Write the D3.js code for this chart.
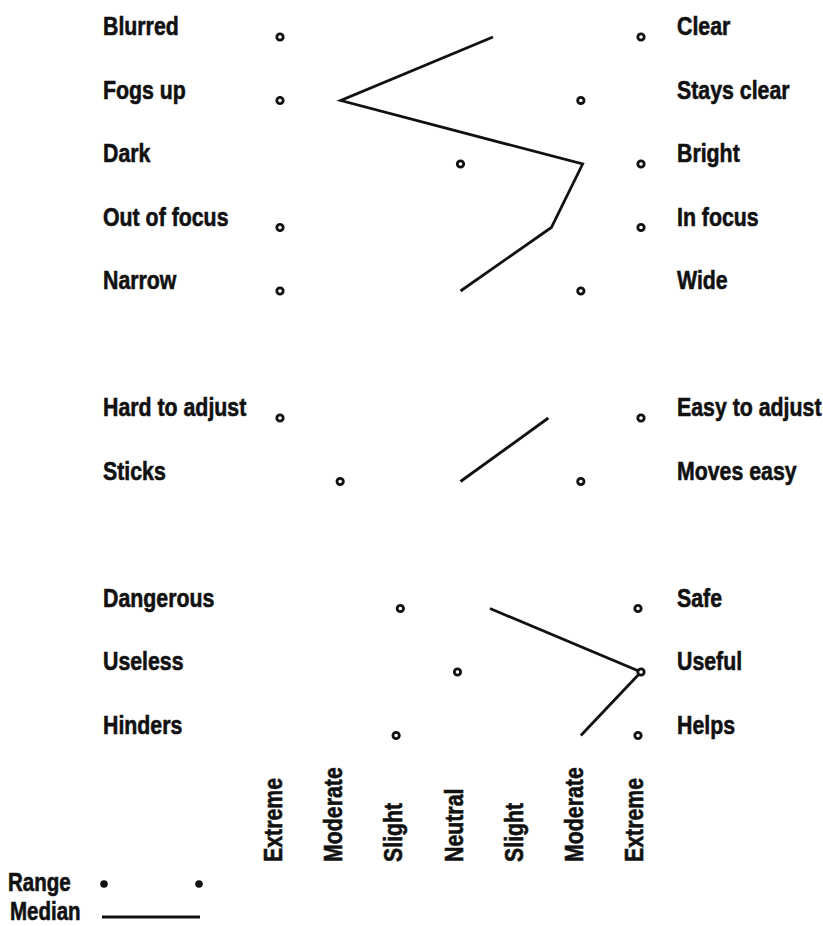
<!DOCTYPE html>
<html>
<head>
<meta charset="utf-8">
<script src="https://cdn.jsdelivr.net/npm/d3@7"></script>
<style>
  body { margin: 0; background: #fff; }
  svg text { font-family: "Liberation Sans", Arial, sans-serif; font-weight: bold; fill: #111; stroke: #111; stroke-width: 0.6; }
</style>
</head>
<body>
<svg id="chart" width="823" height="926"></svg>
<script>
// rating scales, left pole / right pole
var leftLabels = ["Blurred", "Fogs up", "Dark", "Out of focus", "Narrow",
  "Hard to adjust", "Sticks",
  "Dangerous", "Useless", "Hinders"];
var rightLabels = ["Clear", "Stays clear", "Bright", "In focus", "Wide",
  "Easy to adjust", "Moves easy",
  "Safe", "Useful", "Helps"];
var groupOf = [0, 0, 0, 0, 0, 1, 1, 2, 2, 2];
var rowPos = [0, 1, 2, 3, 4, 6, 7, 9, 10, 11];

// 1 = extreme left pole ... 7 = extreme right pole
var rangeLow  = [1, 1, 4, 1, 1, 1, 2, 3, 3.95, 2.93];
var rangeHigh = [7, 6, 7, 7, 6, 7, 6, 6.95, 7, 6.95];
var medians   = [4.54, 2.01, 6.03, 5.51, 4.0, 5.46, 4.0, 4.49, 7, 6.0];

var scaleLabels = ["Extreme", "Moderate", "Slight", "Neutral", "Slight", "Moderate", "Extreme"];

var svg = d3.select("#chart");

var x = d3.scaleLinear().domain([1, 7]).range([280, 641]);
var y = d3.scaleLinear().domain([0, 11]).range([37, 735.5]);

// narrow bold look: squeeze a regular bold face
var squeeze = " scale(0.82,1)";

var rows = leftLabels.map(function(d, i) {
  return { left: d, right: rightLabels[i], g: groupOf[i], pos: rowPos[i],
           lo: rangeLow[i], hi: rangeHigh[i], med: medians[i] };
});

// pole labels
svg.selectAll(".lab-left").data(rows).enter().append("text")
  .attr("class", "lab-left")
  .attr("transform", function(d) { return "translate(103," + (y(d.pos) - 2) + ")" + squeeze; })
  .attr("font-size", 26)
  .text(function(d) { return d.left; });

svg.selectAll(".lab-right").data(rows).enter().append("text")
  .attr("class", "lab-right")
  .attr("transform", function(d) { return "translate(677," + (y(d.pos) - 2) + ")" + squeeze; })
  .attr("font-size", 26)
  .text(function(d) { return d.right; });

// median profile, one line per group
var line = d3.line()
  .x(function(d) { return x(d.med); })
  .y(function(d) { return y(d.pos); });

var groups = d3.groups(rows, function(d) { return d.g; });
svg.selectAll(".median").data(groups).enter().append("path")
  .attr("class", "median")
  .attr("d", function(d) { return line(d[1]); })
  .attr("fill", "none")
  .attr("stroke", "#111")
  .attr("stroke-width", 2.8);

// range end points
var ends = [];
rows.forEach(function(d) {
  ends.push({ v: d.lo, pos: d.pos });
  ends.push({ v: d.hi, pos: d.pos });
});
svg.selectAll(".range").data(ends).enter().append("circle")
  .attr("class", "range")
  .attr("cx", function(d) { return x(d.v); })
  .attr("cy", function(d) { return y(d.pos); })
  .attr("r", 3.2)
  .attr("fill", "#fff")
  .attr("stroke", "#111")
  .attr("stroke-width", 2.8);

// scale labels, rotated
svg.selectAll(".scale").data(scaleLabels).enter().append("text")
  .attr("class", "scale")
  .attr("font-size", 26)
  .attr("transform", function(d, i) {
    return "translate(" + (x(i + 1) + 2) + ",862) rotate(-90)" + squeeze;
  })
  .text(function(d) { return d; });

// legend
var leg = svg.append("g");
leg.append("text").attr("transform", "translate(8,891)" + squeeze).attr("font-size", 25).text("Range");
leg.append("text").attr("transform", "translate(10,920)" + squeeze).attr("font-size", 25).text("Median");
leg.selectAll("circle").data([104, 199]).enter().append("circle")
  .attr("cx", function(d) { return d; })
  .attr("cy", 884)
  .attr("r", 3.8)
  .attr("fill", "#111");
leg.append("line")
  .attr("x1", 102).attr("x2", 200)
  .attr("y1", 917).attr("y2", 917)
  .attr("stroke", "#111")
  .attr("stroke-width", 2.8);
</script>
</body>
</html>
